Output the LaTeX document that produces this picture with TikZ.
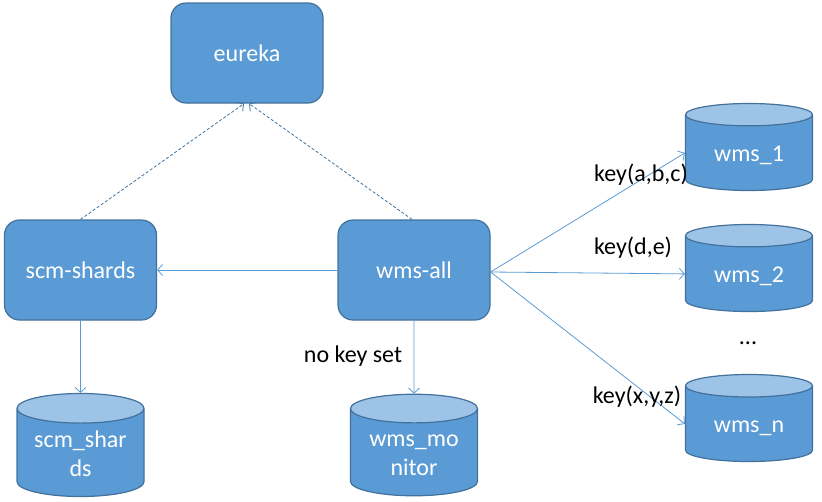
\documentclass[tikz,border=0pt]{standalone}
\usepackage{fontspec}
\setmainfont{Carlito}
\usetikzlibrary{shapes.geometric, arrows.meta, positioning}
\definecolor{boxblue}{HTML}{5B9BD5}
\definecolor{boxline}{HTML}{41719C}
\definecolor{toplight}{HTML}{9DC3E6}
\tikzstyle{service} = [rectangle, rounded corners=15pt, draw=boxline, fill=boxblue, line width=1.2pt, minimum width=152pt, minimum height=100pt, text=white, align=center]
\tikzstyle{db} = [cylinder, shape border rotate=90, aspect=0.32, draw=boxline, line width=1.2pt, cylinder uses custom fill, cylinder body fill=boxblue, cylinder end fill=toplight, minimum width=127pt, minimum height=87pt, text=white, inner sep=0pt, anchor=shape center]
\tikzstyle{arrow} = [draw=boxblue, line width=0.8pt, -{Straight Barb[length=5pt,width=11pt]}]
\tikzstyle{reg} = [draw=boxline, line width=0.8pt, dash pattern=on 3pt off 2pt, -{Straight Barb[length=5pt,width=11pt]}]
\newcommand{\dbtext}[1]{\raisebox{-3pt}[\height][\depth]{\begin{tabular}{@{}c@{}}#1\end{tabular}}}

\begin{document}
\begin{tikzpicture}[x=1pt, y=-1pt, font=\fontsize{24}{29}\selectfont]
\useasboundingbox (0,0) rectangle (822,501);
% services
\node[service] (eureka) at (247,53) {eureka};
\node[service] (scmshards) at (80.5,270) {scm-shards};
\node[service] (wmsall) at (414,270) {wms-all};
% databases
\node[db] (scmdb) at (80.5,445) {\dbtext{scm\_shar\\ds}};
\node[db] (monitordb) at (414,445) {\dbtext{wms\_mo\\nitor}};
\node[db] (wmsone) at (749,147) {\dbtext{wms\_1}};
\node[db] (wmstwo) at (749,268) {\dbtext{wms\_2}};
\node[db] (wmsn) at (749,418) {\dbtext{wms\_n}};
\node (dots) at (748,343) {...};
% registration
\draw[reg] (scmshards.north) -- ([xshift=-3pt]eureka.south);
\draw[reg] ([xshift=-2pt]wmsall.north) -- ([xshift=2pt]eureka.south);
% calls
\draw[arrow] (wmsall.west) -- (scmshards.east);
\draw[arrow] (scmshards.south) -- (scmdb.north);
\draw[arrow] (wmsall.south) -- (monitordb.north);
\draw[arrow] ([yshift=-2pt]wmsall.east) -- (wmsone.west);
\draw[arrow] ([yshift=-2pt]wmsall.east) -- (wmstwo.west);
\draw[arrow] ([yshift=-2pt]wmsall.east) -- (wmsn.west);
% keys
\node (keyone) at (641,175) {key(a,b,c)};
\node (keytwo) at (633,248) {key(d,e)};
\node (keyn) at (637,397) {key(x,y,z)};
\node (nokey) at (353,356) {no key set};
\end{tikzpicture}
\end{document}
